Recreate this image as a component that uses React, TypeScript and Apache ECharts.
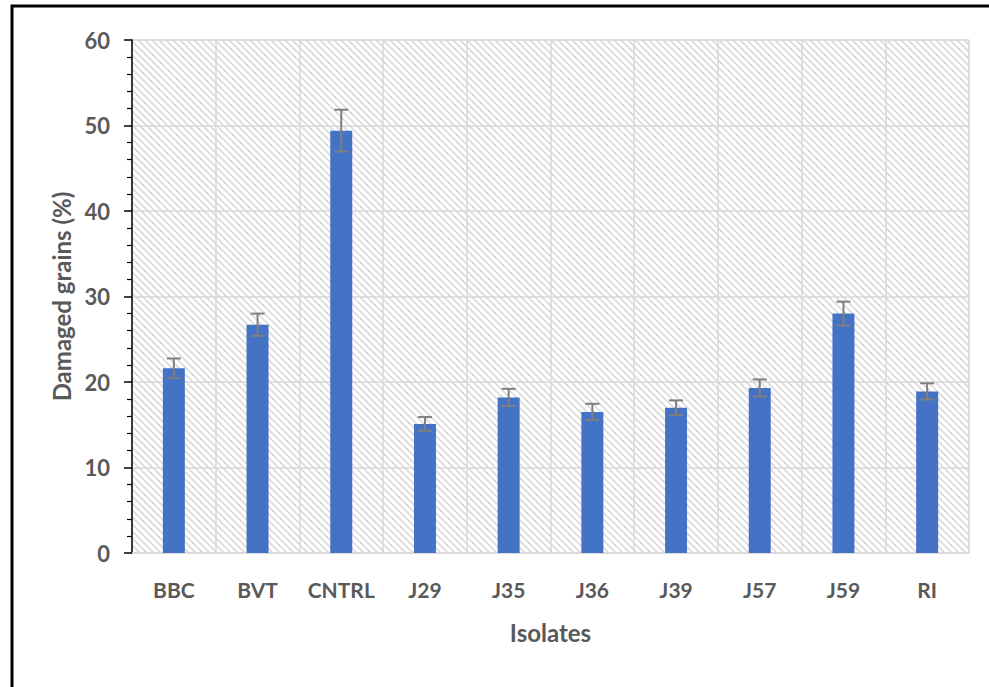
import React, { useEffect, useRef } from "react";
import * as echarts from "echarts";

const categories = ["BBC", "BVT", "CNTRL", "J29", "J35", "J36", "J39", "J57", "J59", "RI"];
const damaged = [21.6, 26.7, 49.4, 15.1, 18.2, 16.5, 17.0, 19.3, 28.0, 18.9];
const errors = [1.15, 1.3, 2.45, 0.8, 1.0, 0.95, 0.85, 1.0, 1.4, 0.95];
const yTicks = { min: 0, max: 60, interval: 10 };

const FONT = "Lato, 'Open Sans', sans-serif";
const TEXT = "#595959";
const GRID = "#d9d9d9";

const hatchSvg =
  "data:image/svg+xml;utf8," +
  encodeURIComponent(
    "<svg xmlns='http://www.w3.org/2000/svg' width='7' height='7'>" +
      "<rect width='7' height='7' fill='#ffffff'/>" +
      "<path d='M0 0 L7 7 M-1 6 L1 8 M6 -1 L8 1' stroke='#d6d6d6' stroke-width='1.5'/>" +
      "</svg>"
  );

export default function App() {
  const ref = useRef<HTMLDivElement>(null);
  useEffect(() => {
    if (!ref.current) return;
    const chart = echarts.init(ref.current, null, { renderer: "svg" });
    const errData = categories.map((c, i) => [i, damaged[i], errors[i]]);
    chart.setOption({
      animation: false,
      backgroundColor: "#ffffff",
      graphic: [
        {
          type: "rect",
          shape: { x: 12, y: 6, width: 1100, height: 800 },
          style: { fill: "none", stroke: "#000000", lineWidth: 3 },
          z: 100,
        },
      ],
      grid: {
        left: 132,
        top: 40,
        right: 20,
        bottom: 134,
        show: true,
        backgroundColor: { image: hatchSvg, repeat: "repeat", imageWidth: 7, imageHeight: 7 },
        borderColor: GRID,
        borderWidth: 1,
      },
      xAxis: {
        type: "category",
        data: categories,
        name: "Isolates",
        nameLocation: "middle",
        nameGap: 67,
        nameTextStyle: { color: TEXT, fontFamily: FONT, fontWeight: "bold", fontSize: 24 },
        axisLine: { lineStyle: { color: GRID, width: 1.5 } },
        axisTick: { show: false },
        axisLabel: { interval: 0, color: TEXT, fontFamily: FONT, fontWeight: "bold", fontSize: 21, margin: 26 },
        splitLine: { show: true, interval: 0, lineStyle: { color: GRID, width: 1.5 } },
      },
      yAxis: {
        type: "value",
        min: yTicks.min,
        max: yTicks.max,
        interval: yTicks.interval,
        name: "Damaged grains (%)",
        nameLocation: "middle",
        nameGap: 57,
        nameTextStyle: { color: TEXT, fontFamily: FONT, fontWeight: "bold", fontSize: 24 },
        axisLine: { show: true, lineStyle: { color: "#000000", width: 1.5 } },
        axisTick: { show: true, length: 8, lineStyle: { color: "#000000", width: 1.5 } },
        minorTick: { show: true, splitNumber: 5, length: 5, lineStyle: { color: "#000000", width: 1.2 } },
        axisLabel: { color: TEXT, fontFamily: FONT, fontWeight: "bold", fontSize: 22, margin: 22 },
        splitLine: { show: true, lineStyle: { color: GRID, width: 1.5 } },
      },
      series: [
        {
          type: "bar",
          data: damaged,
          barWidth: 22,
          itemStyle: { color: "#4472C4" },
          z: 2,
        },
        {
          type: "custom",
          data: errData,
          encode: { x: 0, y: 1 },
          z: 3,
          renderItem: (params: any, api: any) => {
            const x = api.value(0);
            const v = api.value(1);
            const e = api.value(2);
            const top = api.coord([x, v + e]);
            const bot = api.coord([x, v - e]);
            const hw = 7;
            const style = { stroke: "#7f7f7f", lineWidth: 2 };
            return {
              type: "group",
              children: [
                { type: "line", shape: { x1: top[0], y1: top[1], x2: bot[0], y2: bot[1] }, style },
                { type: "line", shape: { x1: top[0] - hw, y1: top[1], x2: top[0] + hw, y2: top[1] }, style },
                { type: "line", shape: { x1: bot[0] - hw, y1: bot[1], x2: bot[0] + hw, y2: bot[1] }, style },
              ],
            };
          },
        },
      ],
    });
    return () => chart.dispose();
  }, []);
  return (
    <div
      ref={ref}
      style={{ position: "fixed", left: 0, top: 0, width: 989, height: 687 }}
    />
  );
}
